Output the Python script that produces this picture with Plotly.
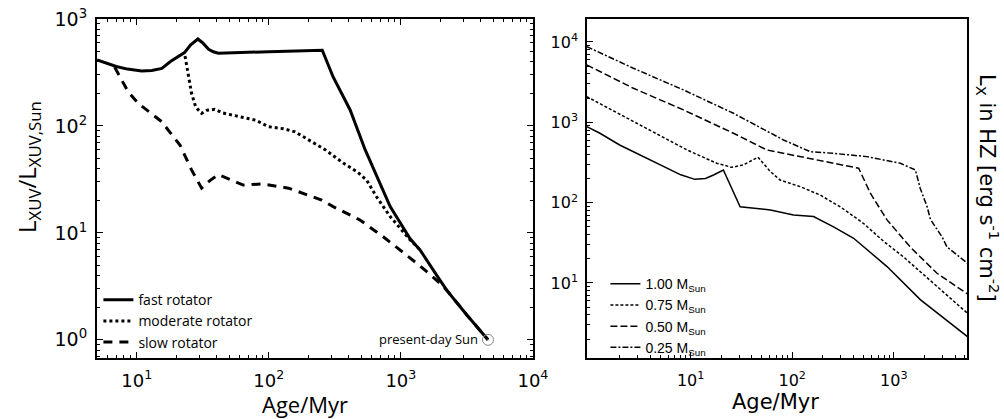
import plotly.graph_objects as go

# ---------------- Left panel data (Age/Myr vs L_XUV/L_XUV,Sun) ----------------
fast_age = [5, 6, 7, 8.5, 10.9, 13, 15.5, 18, 20.7, 23, 25.5, 29, 31.5, 35, 38, 41.5, 100, 224, 254, 307, 413, 536, 830, 1175, 1400, 1870, 2230, 3170, 4570]
fast_L = [414, 385, 360, 340, 327, 330, 345, 400, 445, 485, 570, 650, 600, 520, 494, 478, 495, 510, 510, 287, 141, 60, 17.6, 8.8, 6.9, 4.0, 2.9, 1.7, 1.0]

mod_age = [23.2, 24.5, 26, 28, 31, 34, 39, 45, 62, 80, 99, 130, 158, 200, 267, 366, 470, 552, 650, 830, 1175, 1400]
mod_L = [450, 300, 202, 150, 131, 140, 143, 132, 122, 113, 98.5, 94, 88, 74, 60, 45, 37, 31, 22, 14.2, 8.6, 6.9]

slow_age = [6.8, 8.6, 10.3, 15.4, 21.3, 26, 31, 36, 41.5, 52, 64, 88, 141, 251, 307, 490, 735, 988, 1400, 1870, 2230, 3170, 4570]
slow_L = [355, 209, 162, 110, 66, 38.8, 26.2, 31, 35, 31, 28, 28.7, 26.2, 20.3, 17.6, 13.2, 9.2, 6.9, 4.9, 3.6, 2.9, 1.7, 1.0]

sun_age = [4570]
sun_L = [1.0]

# ---------------- Right panel data (Age/Myr vs L_X in HZ) ----------------
m100_age = [0.95, 1.28, 2, 2.73, 4, 5.8, 8, 11, 14, 16.8, 21, 30.7, 35.7, 61, 103, 162, 255, 402, 857, 1820, 5300]
m100_F = [883, 731, 522, 431, 339, 268, 222, 195, 200, 221, 255, 89, 87.5, 81, 70, 67, 50, 36, 16, 6.2, 2.15]

m075_age = [0.95, 2.73, 9.2, 18, 25.4, 33, 46, 61, 76, 120, 189, 300, 504, 793, 1250, 1690, 5300]
m075_F = [2085, 1018, 453, 310, 275, 295, 367, 243, 191, 158, 124, 88, 55, 33, 21, 15, 4.2]

m050_age = [0.95, 2.73, 8.5, 26.4, 56, 120, 255, 451, 587, 857, 1450, 2660, 5300]
m050_F = [5180, 2656, 1426, 731, 453, 374, 309, 268, 131, 61, 28, 13.2, 7.3]

m025_age = [0.95, 2.73, 8.5, 26.4, 82, 150, 255, 543, 1160, 1630, 1820, 2120, 2290, 3000, 3340, 5300]
m025_F = [8750, 4710, 2530, 1295, 603, 431, 411, 374, 309, 255, 150, 90, 62, 37, 28, 17.6]

left_xticks = [10, 100, 1000, 10000]
left_xtext = ["10<sup>1</sup>", "10<sup>2</sup>", "10<sup>3</sup>", "10<sup>4</sup>"]
left_yticks = [1, 10, 100, 1000]
left_ytext = ["10<sup>0</sup>", "10<sup>1</sup>", "10<sup>2</sup>", "10<sup>3</sup>"]
right_xticks = [10, 100, 1000]
right_xtext = ["10<sup>1</sup>", "10<sup>2</sup>", "10<sup>3</sup>"]
right_yticks = [10, 100, 1000, 10000]
right_ytext = ["10<sup>1</sup>", "10<sup>2</sup>", "10<sup>3</sup>", "10<sup>4</sup>"]
minor_vals = [m * 10 ** e for e in range(-1, 5) for m in range(2, 10)]

LF = "Open Sans"
TF = "DejaVu Sans"

fig = go.Figure()

fig.add_trace(go.Scatter(x=fast_age, y=fast_L, mode="lines", name="fast rotator",
                         line=dict(color="black", width=3), xaxis="x", yaxis="y", legend="legend"))
fig.add_trace(go.Scatter(x=mod_age, y=mod_L, mode="lines", name="moderate rotator",
                         line=dict(color="black", width=3, dash="3px,3px"), xaxis="x", yaxis="y", legend="legend"))
fig.add_trace(go.Scatter(x=slow_age, y=slow_L, mode="lines", name="slow rotator",
                         line=dict(color="black", width=3, dash="9px,7px"), xaxis="x", yaxis="y", legend="legend"))
fig.add_trace(go.Scatter(x=sun_age, y=sun_L, mode="markers", showlegend=False,
                         marker=dict(symbol="circle-open-dot", size=11, color="#888888", line=dict(width=1)),
                         xaxis="x", yaxis="y"))

fig.add_trace(go.Scatter(x=m100_age, y=m100_F, mode="lines", name="1.00 M<sub>Sun</sub>",
                         line=dict(color="black", width=1.5), xaxis="x2", yaxis="y2", legend="legend2"))
fig.add_trace(go.Scatter(x=m075_age, y=m075_F, mode="lines", name="0.75 M<sub>Sun</sub>",
                         line=dict(color="black", width=1.5, dash="3px,2px"), xaxis="x2", yaxis="y2", legend="legend2"))
fig.add_trace(go.Scatter(x=m050_age, y=m050_F, mode="lines", name="0.50 M<sub>Sun</sub>",
                         line=dict(color="black", width=1.5, dash="7px,3px"), xaxis="x2", yaxis="y2", legend="legend2"))
fig.add_trace(go.Scatter(x=m025_age, y=m025_F, mode="lines", name="0.25 M<sub>Sun</sub>",
                         line=dict(color="black", width=1.5, dash="6px,2px,2px,2px"), xaxis="x2", yaxis="y2", legend="legend2"))

ydom = [61 / 419, 400 / 419]


def minor(width):
    return dict(tickmode="array", tickvals=minor_vals, ticks="inside", ticklen=3,
                tickwidth=width, tickcolor="black", showgrid=False)


fig.update_layout(
    width=1004, height=419,
    margin=dict(l=0, r=0, t=0, b=0, autoexpand=False),
    paper_bgcolor="white", plot_bgcolor="white",
    showlegend=True,
    xaxis=dict(type="log", domain=[97 / 1004, 533 / 1004], range=[0.699, 4.0005],
               tickmode="array", tickvals=left_xticks, ticktext=left_xtext,
               ticks="inside", ticklen=6, tickwidth=1.2, tickcolor="black",
               showline=True, linecolor="black", linewidth=2, mirror="ticks",
               showgrid=False, zeroline=False, automargin=False, ticklabelstandoff=5,
               tickfont=dict(family=TF, size=18, color="black"),
               minor=minor(1)),
    yaxis=dict(type="log", domain=ydom, range=[-0.17, 3.0],
               tickmode="array", tickvals=left_yticks, ticktext=left_ytext,
               ticks="inside", ticklen=6, tickwidth=1.2, tickcolor="black",
               showline=True, linecolor="black", linewidth=2, mirror="ticks",
               showgrid=False, zeroline=False, automargin=False, ticklabelstandoff=4,
               tickfont=dict(family=TF, size=19, color="black"),
               minor=minor(1)),
    xaxis2=dict(type="log", domain=[587 / 1004, 967 / 1004], range=[-0.02, 3.72],
                tickmode="array", tickvals=right_xticks, ticktext=right_xtext,
                ticks="inside", ticklen=6, tickwidth=1, tickcolor="black",
                showline=True, linecolor="black", linewidth=1.5, mirror=True,
                showgrid=False, zeroline=False, automargin=False, ticklabelstandoff=7,
                tickfont=dict(family=TF, size=16, color="black"),
                minor=minor(1), anchor="y2"),
    yaxis2=dict(type="log", domain=ydom, range=[0.066, 4.286],
                tickmode="array", tickvals=right_yticks, ticktext=right_ytext,
                ticks="inside", ticklen=6, tickwidth=1, tickcolor="black",
                showline=True, linecolor="black", linewidth=1.5, mirror=True,
                showgrid=False, zeroline=False, automargin=False, ticklabelstandoff=4,
                tickfont=dict(family=TF, size=16, color="black"),
                minor=minor(1), anchor="x2"),
    legend=dict(x=0.098, y=0.322, xanchor="left", yanchor="top",
                bgcolor="rgba(0,0,0,0)", itemwidth=30, tracegroupgap=0,
                font=dict(family=LF, size=14, color="black")),
    legend2=dict(x=0.603, y=0.36, xanchor="left", yanchor="top",
                 bgcolor="rgba(0,0,0,0)", tracegroupgap=0,
                 font=dict(family="Liberation Sans", size=14, color="black")),
)

# axis titles
fig.add_annotation(x=305 / 1004, y=(419 - 404) / 419, xref="paper", yref="paper", text="Age/Myr",
                   showarrow=False, xanchor="center", yanchor="middle",
                   font=dict(family=LF, size=22, color="black"))
fig.add_annotation(x=28 / 1004, y=(419 - 167) / 419, xref="paper", yref="paper",
                   text="L<sub>XUV</sub>/L<sub>XUV,Sun</sub>", textangle=-90,
                   showarrow=False, xanchor="center", yanchor="middle",
                   font=dict(family=LF, size=24, color="black"))
fig.add_annotation(x=775 / 1004, y=(419 - 402) / 419, xref="paper", yref="paper", text="Age/Myr",
                   showarrow=False, xanchor="center", yanchor="middle",
                   font=dict(family=TF, size=21, color="black"))
fig.add_annotation(x=988 / 1004, y=(419 - 188) / 419, xref="paper", yref="paper",
                   text="L<sub>X</sub> in HZ [erg s<sup>-1</sup> cm<sup>-2</sup>]",
                   showarrow=False, textangle=90, xanchor="center", yanchor="middle",
                   font=dict(family=TF, size=21, color="black"))

fig.add_annotation(x=3.66, y=0, xref="x", yref="y", text="present-day Sun",
                   showarrow=False, xanchor="right", yanchor="middle", xshift=-8, yshift=1,
                   font=dict(family=LF, size=13, color="black"))

fig.write_html("out.html", config={"displayModeBar": False},
               post_script="document.body.style.margin='0px';document.body.style.overflow='hidden';")
